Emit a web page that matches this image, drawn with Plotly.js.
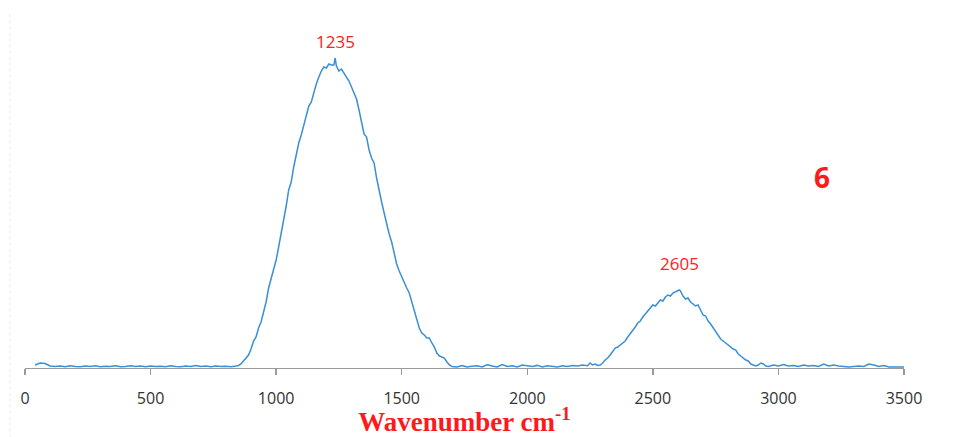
<!DOCTYPE html>
<html>
<head>
<meta charset="utf-8">
<script src="https://cdn.plot.ly/plotly-3.0.1.min.js"></script>
<style>html,body{margin:0;padding:0;background:#fff;}#chart{width:957px;height:437px;}</style>
</head>
<body>
<div id="chart"></div>
<script>
// Wavenumber (cm-1)
const wavenumber = [
  40,60,80,100,120,140,160,180,200,220,240,260,280,300,320,340,360,380,400,420,440,460,480,500,520,540,560,580,600,620,640,660,680,700,720,740,760,780,800,820,840,
  850,860,870,880,890,900,910,920,930,940,950,960,970,980,990,1000,1010,1020,1030,1040,1050,1060,1070,1080,1090,1100,1110,1120,1130,1140,1150,1160,1170,1180,1190,1200,1210,1220,1230,1235,1240,1250,1260,1270,1280,1290,1300,1310,1320,1330,1340,1350,1360,1370,1380,1390,1400,1410,1420,1430,1440,1450,1460,1470,1480,1490,1500,1510,1520,1530,1540,1550,1560,1570,1580,1590,1600,1610,1620,1630,1640,1650,1660,1670,1680,1690,1700,
  1720,1740,1760,1780,1800,1820,1840,1860,1880,1900,1920,1940,1960,1980,2000,2020,2040,2060,2080,2100,2120,2140,2160,2180,2200,2220,2240,
  2250,2260,2270,2280,2290,2300,2310,2320,2330,2340,2350,2360,2370,2380,2390,2400,2410,2420,2430,2440,2450,2460,2470,2480,2490,2500,2510,2520,2530,2540,2550,2560,2570,2580,2590,2600,2605,2610,2620,2630,2640,2650,2660,2670,2680,2690,2700,2710,2720,2730,2740,2750,2760,2770,2780,2790,2800,2810,2820,2830,2840,2850,2860,2870,2880,2890,2900,2910,2920,2930,2940,2950,
  2960,2980,3000,3020,3040,3060,3080,3100,3120,3140,3160,3180,3200,3220,3240,3260,3280,3300,3320,3340,3360,3380,3400,3420,3440,3460,3480,3500
];
// Intensity (a.u.)
const intensity = [
  3,5,4.5,2,1.5,2,1.2,2.2,1.5,1.2,2,1.5,2.3,1.2,1.8,1.5,2.2,1.2,1.6,2.3,1.4,1.9,1.2,2,1.5,1.8,1.2,2.2,1.5,1.2,1.9,1.6,2.5,1.5,1.9,1.2,2,1.4,1.8,1.3,1.9,
  2.5,4,7,10,13,19,27,31,40,46,55,66,80,90,97,108,121,134,146,162,178,186,201,214,225,233,242,253,262,266,276,284,291,297,301,300,304,303,303,310,302,297,299,295,292,287,281,275,269,258,244,234,231,218,210,205,190,176,166,155,144,134,126,114,104,97,91,86,80,75,66,59,50,40,35,33,30,30,25,21,15,12,11,10,6,3,1.5,
  1,2.5,1,1.8,2.3,1,3.2,2,1,3.5,1.5,2.2,1,3,2,1.5,2.6,1,2.2,1.5,1,2.2,1.5,2.5,2,3,2.2,
  5,3,4,2.5,3,5,8,10,13,16,20,21,23,25,27,31,34,37,41,45,47,51,54,58,61,63,62,65,68,67,71,73,72,75,76,77,78,77,72,69,70,66,64,62,63,58,53,52,47,44,40,37,33,29,27,25,23,21,19,18,14,12,10,8,7,4,3,2,3,5,4,2,
  1.5,3,2,3.5,2,2.5,1.5,3,2,2.5,1.5,4,2,3,2,1.5,1,1.5,2,1.5,4,3,1.5,2.5,1,1,1,1
];
const tickValues = [0,500,1000,1500,2000,2500,3000,3500];
const tickLabels = ["0","500","1000","1500","2000","2500","3000","3500"];
const peakPositions = [1235, 2605];
const peakLabels = ["1235", "2605"];
const peakLabelShift = [3, 13];
const panelLabel = "6";

const lineTrace = {
  x: wavenumber,
  y: intensity,
  type: 'scatter',
  mode: 'lines',
  line: {color: '#3a8fd6', width: 1.5},
  hoverinfo: 'x+y',
  showlegend: false
};

const peakAnnotations = peakPositions.map((p, i) => ({
  x: p,
  y: intensity[wavenumber.indexOf(p)],
  xref: 'x', yref: 'y',
  text: peakLabels[i],
  showarrow: false,
  yanchor: 'bottom',
  yshift: peakLabelShift[i],
  font: {family: 'Open Sans, sans-serif', size: 17, color: '#ff2020'}
}));

const layout = {
  width: 957, height: 437,
  margin: {l: 24.5, r: 52.7, t: 20, b: 69},
  paper_bgcolor: '#ffffff',
  plot_bgcolor: '#ffffff',
  xaxis: {
    range: [0, 3500],
    tickvals: tickValues,
    ticktext: tickLabels,
    showgrid: false,
    zeroline: false,
    showline: true,
    linecolor: '#9a9a9a',
    linewidth: 1.3,
    ticks: 'outside',
    ticklen: 6,
    tickcolor: '#9a9a9a',
    tickwidth: 1.3,
    ticklabelstandoff: 9,
    tickfont: {family: 'Open Sans, sans-serif', size: 16, color: '#333333'},
    title: {
      text: '<b>Wavenumber cm<sup>-1</sup></b>',
      font: {family: 'Liberation Serif, Times New Roman, serif', size: 27, color: '#ff1a1a'},
      standoff: 11
    },
    fixedrange: true
  },
  yaxis: {
    range: [0, 348],
    visible: false,
    showgrid: false,
    zeroline: false,
    fixedrange: true
  },
  annotations: peakAnnotations.concat([{
    x: 0.918, y: 0.549, xref: 'paper', yref: 'paper',
    text: '<b>' + panelLabel + '</b>',
    showarrow: false,
    font: {family: 'Open Sans, sans-serif', size: 28, color: '#ff1a1a'}
  }]),
  shapes: [{
    type: 'line', xref: 'paper', yref: 'paper',
    x0: -0.017, x1: -0.017, y0: -0.2, y1: 1.02,
    line: {color: '#e4eaf3', width: 1, dash: 'dot'}
  }]
};

Plotly.newPlot('chart', [lineTrace], layout, {displayModeBar: false, staticPlot: true});
</script>
</body>
</html>
